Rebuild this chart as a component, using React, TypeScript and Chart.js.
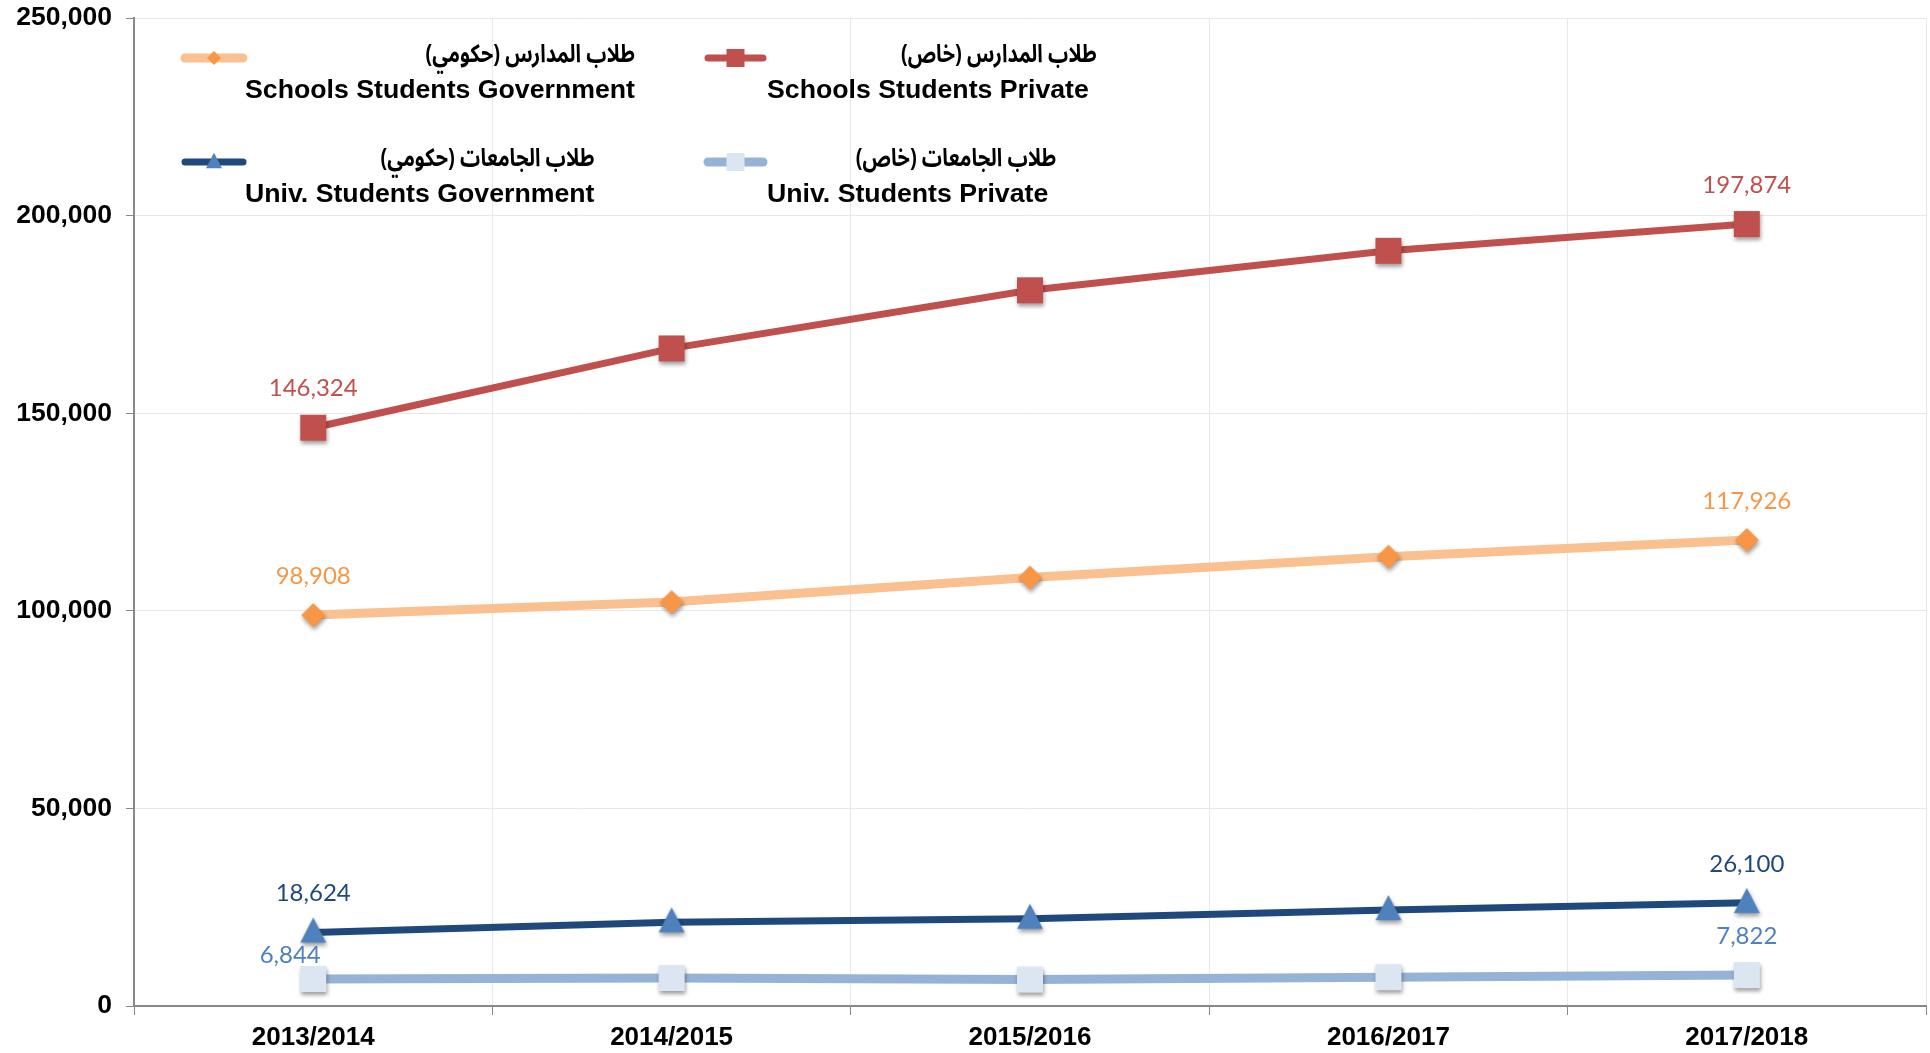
import { useEffect, useRef } from 'react';
import { Chart, registerables } from 'chart.js';
Chart.register(...registerables);

const categories = ['2013/2014', '2014/2015', '2015/2016', '2016/2017', '2017/2018'];
const schoolsGov = [98908, 102200, 108400, 113700, 117926];
const schoolsPrivate = [146324, 166400, 181100, 191100, 197874];
const univGov = [18624, 21200, 22100, 24300, 26100];
const univPrivate = [6844, 7100, 6700, 7300, 7822];
const seriesEnglish = ['Schools Students Government', 'Schools Students Private', 'Univ. Students Government', 'Univ. Students Private'];
const seriesArabic = ['طلاب المدارس (حكومي)', 'طلاب المدارس (خاص)', 'طلاب الجامعات (حكومي)', 'طلاب الجامعات (خاص)'];
const yTicks = [0, 50000, 100000, 150000, 200000, 250000];
const labelledIndexes = [0, 4];

const lineColors = ['#FAC090', '#C0504D', '#1F497D', '#95B3D7'];
const markerColors = ['#F79646', '#C0504D', '#4F81BD', '#DCE6F2'];
const labelColors = ['#F79646', '#C0504D', '#1F497D', '#4F81BD'];

const fmt = (v: number) => Number(v).toLocaleString('en-US');

function tracePath(ctx: CanvasRenderingContext2D, style: string, x: number, y: number, r: number) {
  ctx.beginPath();
  if (style === 'rectRot') {
    ctx.moveTo(x, y - r);
    ctx.lineTo(x + r, y);
    ctx.lineTo(x, y + r);
    ctx.lineTo(x - r, y);
    ctx.closePath();
  } else if (style === 'rect') {
    ctx.rect(x - r, y - r, 2 * r, 2 * r);
  } else if (style === 'triangle') {
    ctx.moveTo(x, y - r * 1.15);
    ctx.lineTo(x + r, y + r * 0.78);
    ctx.lineTo(x - r, y + r * 0.78);
    ctx.closePath();
  }
}

function drawMarker(ctx: CanvasRenderingContext2D, style: string, x: number, y: number, r: number, color: string) {
  ctx.save();
  ctx.fillStyle = color;
  tracePath(ctx, style, x, y, r);
  ctx.fill();
  ctx.restore();
}

function makeMarkerImage(style: string, r: number, color: string) {
  const size = 48;
  const c = document.createElement('canvas');
  c.width = size;
  c.height = size;
  const g = c.getContext('2d')!;
  g.shadowColor = 'rgba(0,0,0,0.38)';
  g.shadowBlur = 4;
  g.shadowOffsetX = 1;
  g.shadowOffsetY = 3;
  g.fillStyle = color;
  tracePath(g, style, size / 2, size / 2, r);
  g.fill();
  return c;
}

const legendPlugin = {
  id: 'customLegend',
  afterDraw(chart: any) {
    const ctx: CanvasRenderingContext2D = chart.ctx;
    const colLine = [[185, 243], [708, 763]];
    const colText = [245, 767];
    const rowLineY = [58, 162];
    const rowEngY = [91, 195];
    const legendMarker = [
      { style: 'rectRot', r: 7 },
      { style: 'rect', r: 9 },
      { style: 'triangle', r: 8 },
      { style: 'rect', r: 9 },
    ];
    const legendLineW = [9, 7, 7, 9];
    chart.data.datasets.forEach((ds: any, i: number) => {
      const col = i % 2;
      const row = Math.floor(i / 2);
      const ly = rowLineY[row];
      ctx.save();
      ctx.strokeStyle = ds.borderColor;
      ctx.lineWidth = legendLineW[i];
      ctx.lineCap = 'round';
      ctx.beginPath();
      ctx.moveTo(colLine[col][0], ly);
      ctx.lineTo(colLine[col][1], ly);
      ctx.stroke();
      ctx.restore();
      drawMarker(ctx, legendMarker[i].style, (colLine[col][0] + colLine[col][1]) / 2, ly, legendMarker[i].r, markerColors[i]);

      ctx.save();
      ctx.fillStyle = '#000';
      ctx.font = "bold 26.7px 'Liberation Sans', Arial, sans-serif";
      ctx.textBaseline = 'middle';
      ctx.textAlign = 'left';
      const eng = seriesEnglish[i];
      const w = ctx.measureText(eng).width;
      ctx.fillText(eng, colText[col], rowEngY[row]);
      ctx.restore();

      ctx.save();
      ctx.fillStyle = '#000';
      ctx.direction = 'rtl';
      ctx.textAlign = 'right';
      ctx.textBaseline = 'middle';
      ctx.font = "bold 25px 'Noto Sans Arabic', 'Noto Naskh Arabic', 'DejaVu Sans', sans-serif";
      const sx = 0.8;
      const rightX = colText[col] + w + (col === 1 ? 8 : 0);
      ctx.translate(rightX, ly);
      ctx.scale(sx, 1);
      ctx.fillText(seriesArabic[i], 0, 0);
      ctx.restore();
    });
  },
};

const dataLabelPlugin = {
  id: 'pointLabels',
  afterDatasetsDraw(chart: any) {
    const ctx: CanvasRenderingContext2D = chart.ctx;
    chart.data.datasets.forEach((ds: any, di: number) => {
      const meta = chart.getDatasetMeta(di);
      labelledIndexes.forEach((idx) => {
        const pt = meta.data[idx];
        if (!pt) return;
        let dx = 0;
        let dy = -39;
        if (di === 3 && idx === 0) {
          dx = -23;
          dy = -24;
        }
        ctx.save();
        ctx.fillStyle = labelColors[di];
        ctx.font = "24px Lato, 'Open Sans', sans-serif";
        ctx.textAlign = 'center';
        ctx.textBaseline = 'middle';
        ctx.fillText(fmt(ds.data[idx]), pt.x + dx, pt.y + dy);
        ctx.restore();
      });
    });
  },
};

export default function App() {
  const ref = useRef<HTMLCanvasElement>(null);
  useEffect(() => {
    document.body.style.margin = '0';
    document.body.style.overflow = 'hidden';
    document.documentElement.style.overflow = 'hidden';
    const canvas = ref.current!;
    const series = [schoolsGov, schoolsPrivate, univGov, univPrivate];
    const styles = ['rectRot', 'rect', 'triangle', 'rect'];
    const markerR = [12, 13, 13, 13];
    const widths = [9, 7, 7, 9];
    const chart = new Chart(canvas, {
      type: 'line',
      data: {
        labels: categories,
        datasets: series.map((d, i) => ({
          label: seriesEnglish[i],
          data: d,
          borderColor: lineColors[i],
          backgroundColor: markerColors[i],
          pointBackgroundColor: markerColors[i],
          pointBorderColor: markerColors[i],
          pointBorderWidth: 0,
          pointStyle: makeMarkerImage(styles[i], markerR[i], markerColors[i]) as any,
          pointRadius: 13,
          borderWidth: widths[i],
          tension: 0,
          fill: false,
          borderCapStyle: 'butt',
        })),
      },
      options: {
        animation: false,
        responsive: true,
        maintainAspectRatio: false,
        layout: { autoPadding: false, padding: { top: 18, right: 4, left: 0, bottom: 0 } },
        plugins: {
          legend: { display: false },
          tooltip: { enabled: false },
          title: { display: false },
        },
        scales: {
          x: {
            offset: true,
            grid: { offset: true, color: '#E8E8E8', lineWidth: 1, tickColor: '#888888', tickLength: 9 },
            border: { color: '#888888', width: 2 },
            ticks: {
              font: { family: "'Liberation Sans', Arial, sans-serif", size: 26, weight: 'bold' },
              color: '#000',
              padding: 7,
              maxRotation: 0,
              autoSkip: false,
            },
            afterFit: (s: any) => {
              s.height = 47;
              s.paddingLeft = 0;
              s.paddingRight = 0;
            },
          },
          y: {
            min: 0,
            max: 250000,
            afterBuildTicks: (s: any) => {
              s.ticks = yTicks.map((v) => ({ value: v }));
            },
            ticks: {
              callback: (v: any) => fmt(v),
              font: { family: "'Liberation Sans', Arial, sans-serif", size: 26.5, weight: 'bold' },
              color: '#000',
              padding: 14,
            },
            grid: { color: '#E8E8E8', lineWidth: 1, tickColor: '#888888', tickLength: 8 },
            border: { color: '#888888', width: 2 },
            afterFit: (s: any) => {
              s.width = 134;
              s.paddingTop = 0;
              s.paddingBottom = 0;
            },
          },
        },
      },
      plugins: [dataLabelPlugin, legendPlugin],
    });
    return () => chart.destroy();
  }, []);
  return (
    <div style={{ width: 1930, height: 1053, position: 'relative' }}>
      <canvas ref={ref} />
    </div>
  );
}
